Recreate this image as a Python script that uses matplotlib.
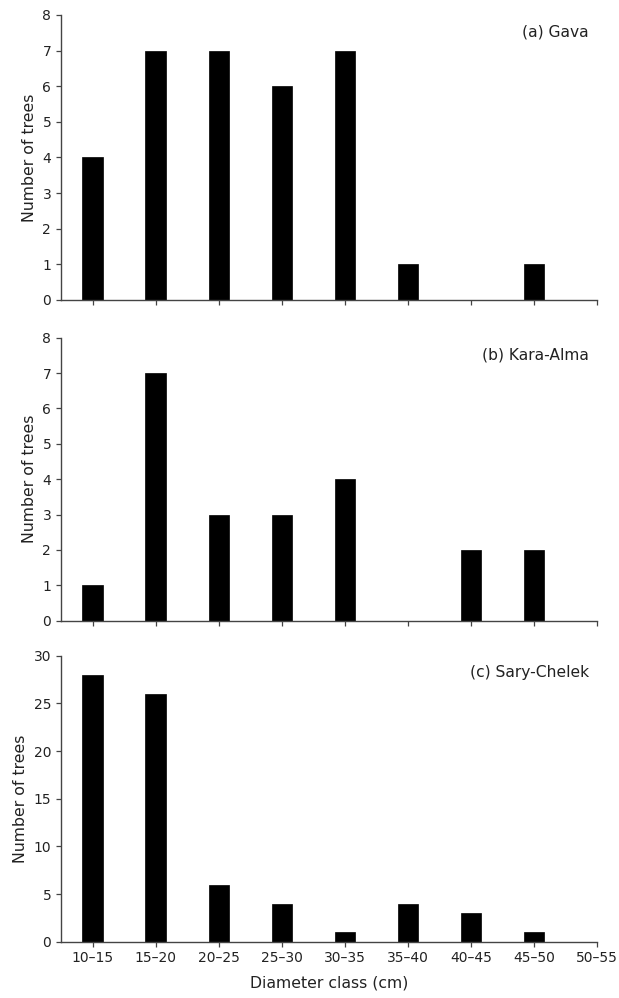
import matplotlib
matplotlib.use("Agg")
import matplotlib.pyplot as plt
import numpy as np

# diameter classes (cm) shared by all three sites
classes = ["10\u201315", "15\u201320", "20\u201325", "25\u201330", "30\u201335",
           "35\u201340", "40\u201345", "45\u201350", "50\u201355"]

gava = [4, 7, 7, 6, 7, 1, 0, 1, 0]
kara_alma = [1, 7, 3, 3, 4, 0, 2, 2, 0]
sary_chelek = [28, 26, 6, 4, 1, 4, 3, 1, 0]

panel_titles = ["(a) Gava", "(b) Kara-Alma", "(c) Sary-Chelek"]
panel_counts = [gava, kara_alma, sary_chelek]
panel_ymax = [8, 8, 30]
panel_ystep = [1, 1, 5]

TEXT = "#222222"
SPINE = "#444444"

plt.rcParams["font.family"] = "DejaVu Sans"
plt.rcParams["font.size"] = 10

fig = plt.figure(figsize=(6.19, 9.98), dpi=100)

boxes = [
    [0.0985, 0.6994, 0.866, 0.2856],
    [0.0985, 0.3781, 0.866, 0.2836],
    [0.0985, 0.0564, 0.866, 0.2866],
]

x = np.arange(len(classes))

for i, (box, title, counts) in enumerate(zip(boxes, panel_titles, panel_counts)):
    ax = fig.add_axes(box)
    ax.bar(x, counts, width=0.32, color="black", edgecolor="black", linewidth=0.5)
    ax.set_xlim(-0.5, len(classes) - 1)
    ax.set_ylim(0, panel_ymax[i])
    ax.set_yticks(np.arange(0, panel_ymax[i] + 1, panel_ystep[i]))
    ax.set_xticks(x)

    for side in ["top", "right"]:
        ax.spines[side].set_visible(False)
    for side in ["left", "bottom"]:
        ax.spines[side].set_color(SPINE)
        ax.spines[side].set_linewidth(1.0)

    ax.tick_params(axis="both", colors=SPINE, labelcolor=TEXT, labelsize=10,
                   length=3.5, width=0.9, direction="out")

    if i == 2:
        ax.set_xticklabels(classes)
        ax.set_xlabel("Diameter class (cm)", color=TEXT, fontsize=11.3, labelpad=7)
    else:
        ax.set_xticklabels([])

    ax.set_ylabel("Number of trees", color=TEXT, fontsize=11.3, labelpad=4)
    ax.text(0.985, 0.94, title, transform=ax.transAxes, ha="right", va="center",
            color=TEXT, fontsize=11.2)

fig.savefig("out.png", dpi=100)
